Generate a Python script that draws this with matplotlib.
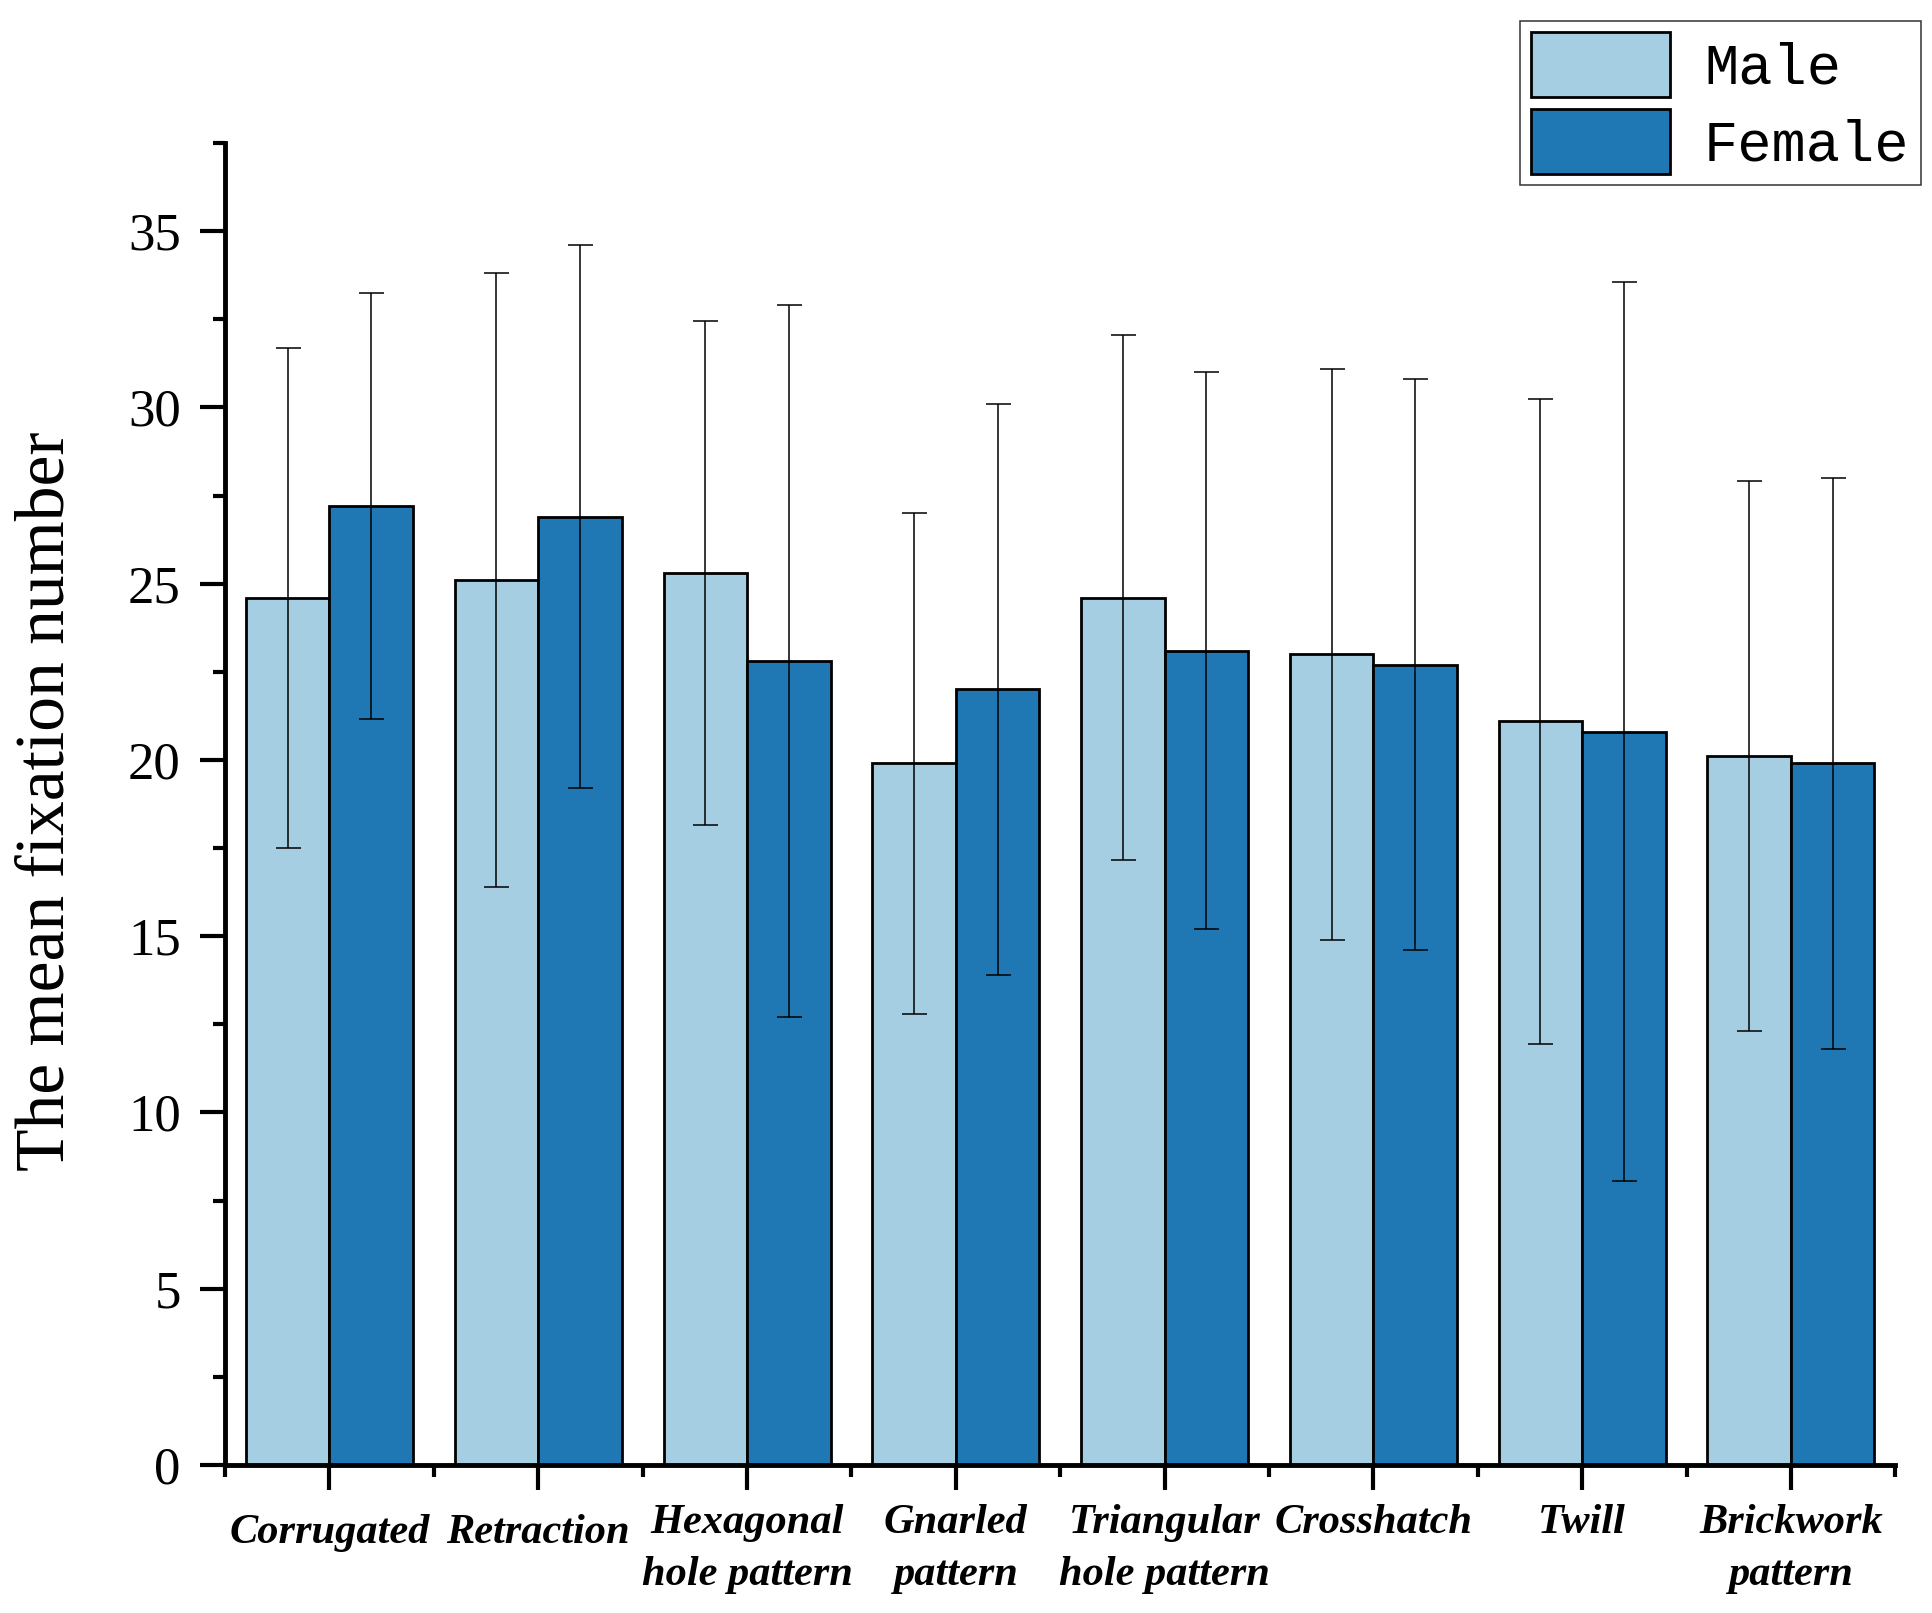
import numpy as np
import matplotlib
matplotlib.use("Agg")
import matplotlib.pyplot as plt
from matplotlib.ticker import MultipleLocator, FixedLocator

categories = ["Corrugated", "Retraction", "Hexagonal\nhole pattern", "Gnarled\npattern",
              "Triangular\nhole pattern", "Crosshatch", "Twill", "Brickwork\npattern"]
male_mean = [24.6, 25.1, 25.3, 19.9, 24.6, 23.0, 21.1, 20.1]
male_sd = [7.1, 8.7, 7.15, 7.1, 7.45, 8.1, 9.15, 7.8]
female_mean = [27.2, 26.9, 22.8, 22.0, 23.1, 22.7, 20.8, 19.9]
female_sd = [6.05, 7.7, 10.1, 8.1, 7.9, 8.1, 12.75, 8.1]

light = "#a6cee3"
dark = "#1f78b4"

fig = plt.figure(figsize=(19.32, 16.13), dpi=100)
ax = fig.add_axes([0.1165, 0.0918, 0.8645, 0.8195])

x = np.arange(len(categories))
w = 0.4
err_kw = dict(ecolor="black", elinewidth=1.1, capsize=9, capthick=1.1)
ax.bar(x - w / 2, male_mean, w, yerr=male_sd, color=light, edgecolor="black",
       linewidth=2, label="Male", error_kw=err_kw)
ax.bar(x + w / 2, female_mean, w, yerr=female_sd, color=dark, edgecolor="black",
       linewidth=2, label="Female", error_kw=err_kw)

ax.set_xlim(-0.5, 7.5)
ax.set_ylim(0, 37.5)
ax.spines["top"].set_visible(False)
ax.spines["right"].set_visible(False)
for s in ["left", "bottom"]:
    ax.spines[s].set_linewidth(3.5)

ax.yaxis.set_major_locator(MultipleLocator(5))
ax.yaxis.set_minor_locator(MultipleLocator(2.5))
ax.set_xticks(x)
ax.xaxis.set_minor_locator(FixedLocator(np.arange(-0.5, 8, 1)))
ax.tick_params(which="major", length=18, width=3)
ax.tick_params(which="minor", length=8.6, width=3)
ax.tick_params(axis="y", which="major", pad=14)
ax.tick_params(axis="x", which="major", pad=10)

for lab in ax.get_yticklabels():
    lab.set_fontfamily("Liberation Serif")
    lab.set_fontsize(38)
ax.set_xticklabels(categories, fontfamily="Liberation Serif", fontsize=30.5,
                   fontweight="bold", fontstyle="italic", linespacing=1.5)
# the two single-line labels on the left sit a little lower
for lab in ax.get_xticklabels()[:2]:
    lab.set_y(-0.008)

fig.text(0.024, 0.503, "The mean fixation number", rotation=90, ha="center",
         va="center", fontfamily="Liberation Serif", fontsize=50)

leg = ax.legend(loc="upper right", bbox_to_anchor=(1921 / 1932, 1 - 21 / 1613),
                bbox_transform=fig.transFigure, borderaxespad=0, fancybox=False,
                edgecolor="black", prop={"family": "Liberation Mono", "size": 41},
                handlelength=2.44, handleheight=1.38, labelspacing=0.2,
                handletextpad=0.6, borderpad=0.2)
leg.get_frame().set_linewidth(1.1)

fig.savefig("out.png", dpi=100)
